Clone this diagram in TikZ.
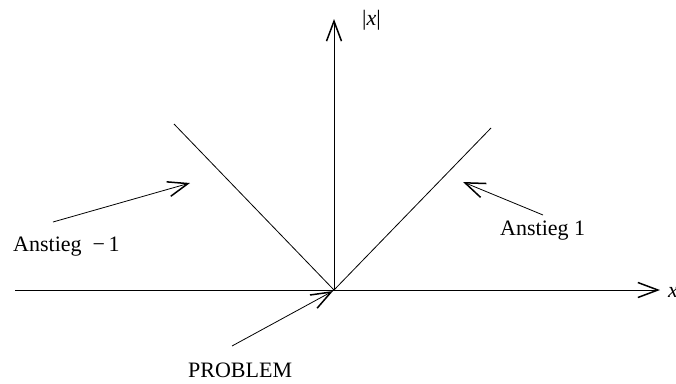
\documentclass[tikz,border=0pt]{standalone}
\usepackage{fontspec}
\setmainfont{Liberation Serif}
\usetikzlibrary{arrows.meta}
\tikzset{
  ln/.style={line width=0.8pt},
  arr/.style={line width=0.8pt,-{Straight Barb[length=20pt,width=15pt,line width=1.5pt]}},
  lbl/.style={font=\fontsize{22}{26}\selectfont, inner sep=0pt}
}
\begin{document}
\begin{tikzpicture}[x=1pt,y=-1pt]
\useasboundingbox (0,0) rectangle (676,383);
\coordinate (O) at (334,290);
\coordinate (xs) at (15,290);
\coordinate (xe) at (660,290);
\coordinate (ye) at (334,19);
\coordinate (L) at (174,124);
\coordinate (R) at (491,128);
\coordinate (a1s) at (53,222);
\coordinate (a1e) at (190,183);
\coordinate (a2s) at (543,215);
\coordinate (a2e) at (463,182);
\coordinate (a3s) at (232,346);
\coordinate (a3e) at (333,291);
\draw[arr] (xs) -- (xe);
\draw[arr] (O) -- (ye);
\draw[ln] (L) -- (O) -- (R);
\draw[arr] (a1s) -- (a1e);
\draw[arr] (a2s) -- (a2e);
\draw[arr] (a3s) -- (a3e);
\node[lbl, anchor=base west] (tx) at (668,297) {\textit{x}};
\node[lbl, anchor=base west] (ty) at (362,25) {|\textit{x}|};
\node[lbl, anchor=base west] (t1) at (13,251) {Anstieg \ −\,1};
\node[lbl, anchor=base west] (t2) at (500,235) {Anstieg 1};
\node[lbl, anchor=base west] (t3) at (188,377) {PROBLEM};
\end{tikzpicture}
\end{document}
